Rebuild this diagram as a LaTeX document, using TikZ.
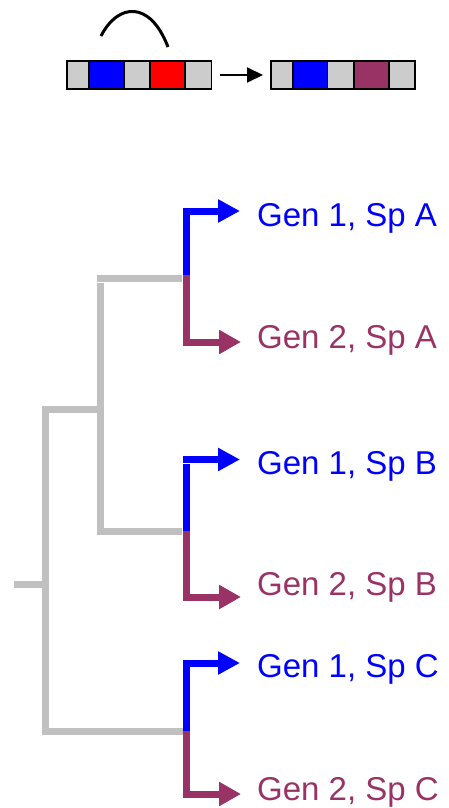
\documentclass[tikz,border=0pt]{standalone}
\usepackage{fontspec}
\setmainfont{Liberation Sans}
\usetikzlibrary{arrows.meta}
\definecolor{treegray}{HTML}{C0C0C0}
\definecolor{cellgray}{HTML}{CCCCCC}
\definecolor{gentwo}{HTML}{993366}
\definecolor{genone}{HTML}{0000FF}
\definecolor{cellred}{HTML}{FF0000}
\begin{document}
\begin{tikzpicture}[x=1pt,y=-1pt,
  cell/.style={draw=black,line width=1.5pt,inner sep=0pt,minimum height=28pt,anchor=west},
  graybr/.style={draw=treegray,line width=7pt,line cap=butt,line join=miter},
  onebr/.style={draw=genone,line width=7pt,line cap=butt,line join=miter,-{Triangle[length=22pt,width=22pt]}},
  twobr/.style={draw=gentwo,line width=7pt,line cap=butt,line join=miter,-{Triangle[length=22pt,width=23pt]}},
  lab/.style={anchor=base west,inner sep=0pt,font=\fontsize{33}{36}\selectfont},
  labone/.style={lab,text=genone},
  labtwo/.style={lab,text=gentwo}]
\useasboundingbox (0,0) rectangle (448,808);
% top strips
\node[cell,fill=cellgray,minimum width=22.3pt] (l1) at (66,75) {};
\node[cell,fill=genone,minimum width=35pt] (l2) at (88.3,75) {};
\node[cell,fill=cellgray,minimum width=26pt] (l3) at (123.3,75) {};
\node[cell,fill=cellred,minimum width=34.7pt] (l4) at (149.3,75) {};
\node[cell,fill=cellgray,minimum width=26.7pt] (l5) at (184,75) {};
\node[cell,fill=cellgray,minimum width=22pt] (r1) at (270,75) {};
\node[cell,fill=genone,minimum width=34.7pt] (r2) at (292,75) {};
\node[cell,fill=cellgray,minimum width=26.6pt] (r3) at (326.7,75) {};
\node[cell,fill=gentwo,minimum width=35pt] (r4) at (353.3,75) {};
\node[cell,fill=cellgray,minimum width=25.7pt] (r5) at (388.3,75) {};
\draw[line width=2pt,-{Triangle[length=16pt,width=15pt]}] ([xshift=8pt]l5.east) -- ([xshift=-7pt]r1.west);
\coordinate (arcA) at (101,36);
\coordinate (arcB) at (168,47);
\draw[line width=3pt] (arcA) .. controls (118,3) and (150,0) .. (arcB);
% tree coordinates
\coordinate (root) at (14,584);
\coordinate (outerX) at (45,584);
\coordinate (outerTop) at (45,409);
\coordinate (outerBot) at (45,731);
\coordinate (innerJ) at (100,409);
\coordinate (innerTop) at (100,283);
\coordinate (innerBot) at (100,531);
\coordinate (nA) at (186.5,278);
\coordinate (nB) at (186.5,531);
\coordinate (nC) at (186.5,731);
\coordinate (tA1) at (240,211);
\coordinate (tA2) at (241,342);
\coordinate (tB1) at (240,459.5);
\coordinate (tB2) at (241,597);
\coordinate (tC1) at (240,663);
\coordinate (tC2) at (241,794);
% gray branches
\draw[graybr] (root) -- (outerX);
\draw[graybr] (innerJ) -- (outerTop) -- (outerBot) -- (nC);
\draw[graybr] (97,278) -- (182,278);
\draw[graybr] (innerTop) -- (innerBot) -- (182,531);
% coloured branches
\draw[onebr] (186.5,275) |- (tA1);
\draw[twobr] (186.5,275) |- (tA2);
\draw[onebr] (183,459.5) -- (tB1);
\draw[genone,line width=7pt] (186.5,464) -- (186.5,531);
\draw[twobr] (186.5,531) |- (tB2);
\draw[onebr] (186.5,731) |- (tC1);
\draw[twobr] (186.5,731) |- (tC2);
% labels
\node[labone] (gA1) at (257,226.5) {Gen 1, Sp A};
\node[labtwo] (gA2) at (257,348.5) {Gen 2, Sp A};
\node[labone] (gB1) at (257,474.5) {Gen 1, Sp B};
\node[labtwo] (gB2) at (257,595.5) {Gen 2, Sp B};
\node[labone] (gC1) at (257,677) {Gen 1, Sp C};
\node[labtwo] (gC2) at (257,800) {Gen 2, Sp C};
\end{tikzpicture}
\end{document}
